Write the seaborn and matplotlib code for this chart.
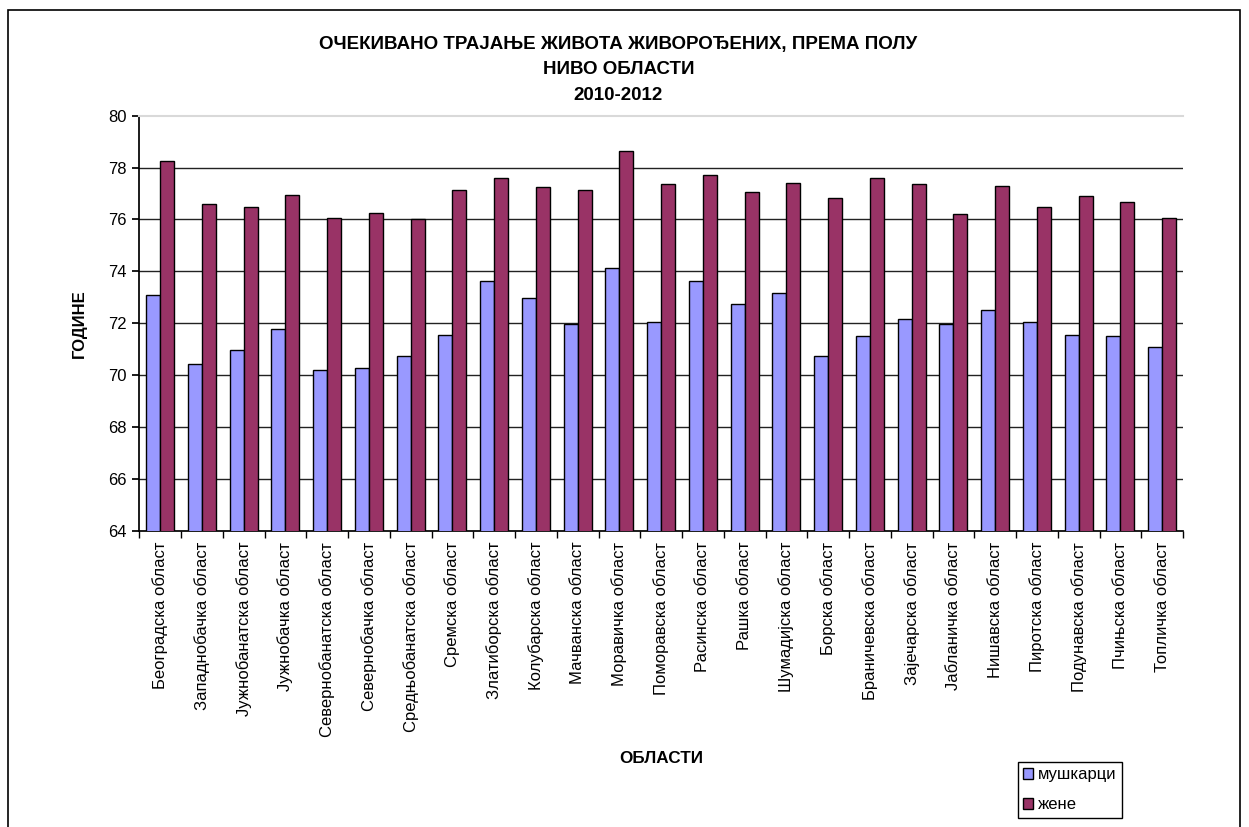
import matplotlib
matplotlib.use("Agg")
import matplotlib.pyplot as plt
from matplotlib.patches import Rectangle
import seaborn as sns
import numpy as np
import pandas as pd

regions = ["Београдска област", "Западнобачка област", "Јужнобанатска област",
           "Јужнобачка област", "Севернобанатска област", "Севернобачка област",
           "Средњобанатска област", "Сремска област", "Златиборска област",
           "Колубарска област", "Мачванска област", "Моравичка област",
           "Поморавска област", "Расинска област", "Рашка област",
           "Шумадијска област", "Борска област", "Браничевска област",
           "Зајечарска област", "Јабланичка област", "Нишавска област",
           "Пиротска област", "Подунавска област", "Пчињска област",
           "Топличка област"]
men = [73.08, 70.44, 70.98, 71.79, 70.21, 70.27, 70.73, 71.56, 73.61, 72.97,
       71.97, 74.14, 72.03, 73.61, 72.75, 73.15, 70.73, 71.50, 72.15, 71.97,
       72.51, 72.03, 71.56, 71.50, 71.09]
women = [78.24, 76.59, 76.48, 76.94, 76.07, 76.23, 76.02, 77.13, 77.60, 77.25,
         77.13, 78.65, 77.37, 77.71, 77.07, 77.42, 76.84, 77.60, 77.37, 76.20,
         77.30, 76.48, 76.89, 76.66, 76.07]
series = ["мушкарци", "жене"]
colors = ["#9999FF", "#993366"]

df = pd.DataFrame({
    "област": regions * 2,
    "године": men + women,
    "пол": [series[0]] * len(regions) + [series[1]] * len(regions),
})

sns.set_theme(style="white")
plt.rcParams["font.family"] = ["Liberation Sans", "DejaVu Sans"]
plt.rcParams["text.color"] = "black"
plt.rcParams["axes.labelcolor"] = "black"
plt.rcParams["xtick.color"] = "black"
plt.rcParams["ytick.color"] = "black"

fig = plt.figure(figsize=(12.49, 8.27), dpi=100)
ax = fig.add_axes([0.1115, 0.3583, 0.8357, 0.5018])

sns.barplot(data=df, x="област", y="године", hue="пол", palette=colors,
            width=0.67, edgecolor="black", linewidth=1, saturation=1,
            ax=ax, legend=False, zorder=3)

ax.set_ylim(64, 80)
ax.set_xlim(-0.5, len(regions) - 0.5)
ax.set_yticks(np.arange(64, 81, 2))
ax.tick_params(axis="y", labelsize=12, length=5, direction="out", left=True, pad=4)
ax.set_xticks(np.arange(-0.5, len(regions), 1), minor=True)
ax.tick_params(axis="x", which="major", length=0, labelsize=12, rotation=90, pad=8)
ax.tick_params(axis="x", which="minor", length=5, direction="out", bottom=True)
for y in range(66, 80, 2):
    ax.axhline(y, color="#222222", lw=1, zorder=1)

ax.spines["left"].set_color("black")
ax.spines["bottom"].set_color("black")
ax.spines["top"].set_color("#d9d9d9")
ax.spines["top"].set_linewidth(1.5)
ax.spines["right"].set_visible(False)

ax.set_xlabel("ОБЛАСТИ", fontsize=12.3, fontweight="bold", labelpad=10.5)
ax.set_ylabel("ГОДИНЕ", fontsize=12, fontweight="bold", labelpad=15)

fig.text(0.495, 1 - 44 / 827, "ОЧЕКИВАНО ТРАЈАЊЕ ЖИВОТА ЖИВОРОЂЕНИХ, ПРЕМА ПОЛУ",
         ha="center", va="center", fontsize=13.5, fontweight="bold")
fig.text(0.495, 1 - 69 / 827, "НИВО ОБЛАСТИ", ha="center", va="center",
         fontsize=13.5, fontweight="bold")
fig.text(0.495, 1 - 95 / 827, "2010-2012", ha="center", va="center",
         fontsize=13.5, fontweight="bold")

handles = [Rectangle((0, 0), 1, 1, facecolor=c, edgecolor="black", lw=1) for c in colors]
leg = fig.legend(handles, series, loc="upper right",
                 bbox_to_anchor=(1122 / 1249, 1 - 762 / 827), fontsize=12,
                 frameon=True, fancybox=False, framealpha=1, edgecolor="black",
                 handlelength=0.6, handleheight=0.6, handletextpad=0.3,
                 labelspacing=0.9, borderpad=0.32, borderaxespad=0)
leg.get_frame().set_linewidth(1)

fig.patches.append(Rectangle((8 / 1249, -0.01), (1240 - 8) / 1249, 1.01 - 10 / 827,
                             transform=fig.transFigure, fill=False,
                             edgecolor="black", lw=1.2))

fig.savefig("out.png", dpi=100)
